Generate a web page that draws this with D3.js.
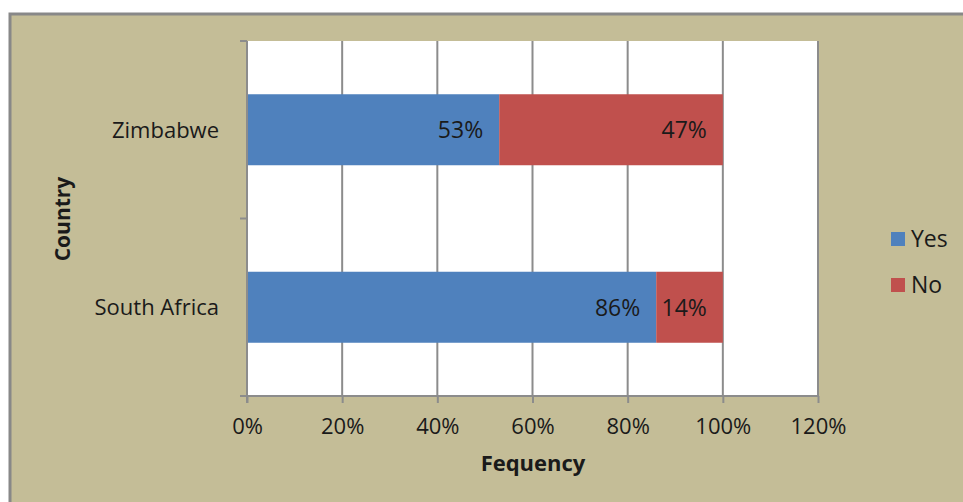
<!DOCTYPE html>
<html>
<head>
<meta charset="utf-8">
<script src="https://cdn.jsdelivr.net/npm/d3@7"></script>
<style>
  html, body { margin: 0; padding: 0; background: #fff; }
  svg { display: block; }
  text { font-family: "Open Sans", "DejaVu Sans", sans-serif; fill: #1a1a1a; }
</style>
</head>
<body>
<script>
// Survey answers per country, as shares of respondents
const countries = ["Zimbabwe", "South Africa"];
const seriesNames = ["Yes", "No"];
const yesValues = [53, 86];
const noValues = [47, 14];
const xTicks = [0, 20, 40, 60, 80, 100, 120];
const seriesColors = ["#4F81BD", "#C0504D"];

const W = 963, H = 502;
const FONT = "'Open Sans', 'DejaVu Sans', sans-serif";
const FS = 22;
const svg = d3.select("body").append("svg").attr("width", W).attr("height", H);

// Chart frame
svg.append("rect")
  .attr("x", 10).attr("y", 14).attr("width", W + 10).attr("height", H + 10)
  .attr("fill", "#C4BD97").attr("stroke", "#888888").attr("stroke-width", 3);

const plot = { left: 247, right: 818, top: 41, bottom: 396 };

const x = d3.scaleLinear().domain([0, 120]).range([plot.left, plot.right]);
const y = d3.scaleBand().domain(countries).range([plot.top, plot.bottom]).paddingInner(0.6).paddingOuter(0.3);
const yOuter = d3.scaleBand().domain(countries).range([plot.top, plot.bottom]);

// Plot area
svg.append("rect")
  .attr("x", plot.left).attr("y", plot.top)
  .attr("width", plot.right - plot.left).attr("height", plot.bottom - plot.top)
  .attr("fill", "#ffffff");

// Vertical gridlines
svg.append("g").selectAll("line").data(xTicks.slice(1)).join("line")
  .attr("x1", d => x(d)).attr("x2", d => x(d))
  .attr("y1", plot.top).attr("y2", plot.bottom)
  .attr("stroke", "#8c8c8c").attr("stroke-width", 2);

// Stacked bars
const rows = countries.map((c, i) => ({ country: c, values: [yesValues[i], noValues[i]] }));
rows.forEach(r => {
  let acc = 0;
  r.values.forEach((v, j) => {
    const x0 = acc, x1 = acc + v;
    svg.append("rect")
      .attr("x", x(x0)).attr("y", y(r.country))
      .attr("width", x(x1) - x(x0)).attr("height", y.bandwidth())
      .attr("fill", seriesColors[j]);
    svg.append("text")
      .attr("x", x(x1) - 16).attr("y", y(r.country) + y.bandwidth() / 2)
      .attr("dy", "0.36em").attr("text-anchor", "end")
      .attr("font-size", 23).text(v + "%");
    acc = x1;
  });
});

// X axis
const xAxis = svg.append("g").attr("transform", `translate(0,${plot.bottom})`)
  .call(d3.axisBottom(x).tickValues(xTicks).tickFormat(d => d + "%").tickSize(7).tickPadding(15));
xAxis.select(".domain").attr("stroke", "#8c8c8c").attr("stroke-width", 2)
  .attr("d", `M${plot.left - 7},0H${plot.right}`);
xAxis.selectAll(".tick line").attr("stroke", "#8c8c8c").attr("stroke-width", 2);
xAxis.selectAll(".tick text").attr("font-size", FS).attr("fill", "#1a1a1a")
  .style("font-family", FONT);

// Y axis with ticks between categories
const yAxisG = svg.append("g");
yAxisG.append("line")
  .attr("x1", plot.left).attr("x2", plot.left).attr("y1", plot.top).attr("y2", plot.bottom + 7)
  .attr("stroke", "#8c8c8c").attr("stroke-width", 2);
const boundaries = countries.map(c => yOuter(c)).concat([plot.bottom]);
yAxisG.selectAll("line.tk").data(boundaries).join("line").attr("class", "tk")
  .attr("x1", plot.left - 7).attr("x2", plot.left)
  .attr("y1", d => d).attr("y2", d => d)
  .attr("stroke", "#8c8c8c").attr("stroke-width", 2);
yAxisG.selectAll("text").data(countries).join("text")
  .attr("x", plot.left - 28).attr("y", d => y(d) + y.bandwidth() / 2)
  .attr("dy", "0.36em").attr("text-anchor", "end").attr("font-size", FS)
  .text(d => d);

// Axis titles
svg.append("text").attr("x", 533).attr("y", 471).attr("text-anchor", "middle")
  .attr("font-size", FS).attr("font-weight", "bold").text("Fequency");
svg.append("text").attr("transform", "translate(70,219) rotate(-90)")
  .attr("text-anchor", "middle").attr("font-size", 21).attr("font-weight", "bold").text("Country");

// Legend
const legend = svg.append("g");
seriesNames.forEach((s, i) => {
  const ly = 239 + i * 46;
  legend.append("rect").attr("x", 891).attr("y", ly - 7).attr("width", 14).attr("height", 14)
    .attr("fill", seriesColors[i]);
  legend.append("text").attr("x", 911).attr("y", ly).attr("dy", "0.36em")
    .attr("font-size", 23).text(s);
});
</script>
</body>
</html>
